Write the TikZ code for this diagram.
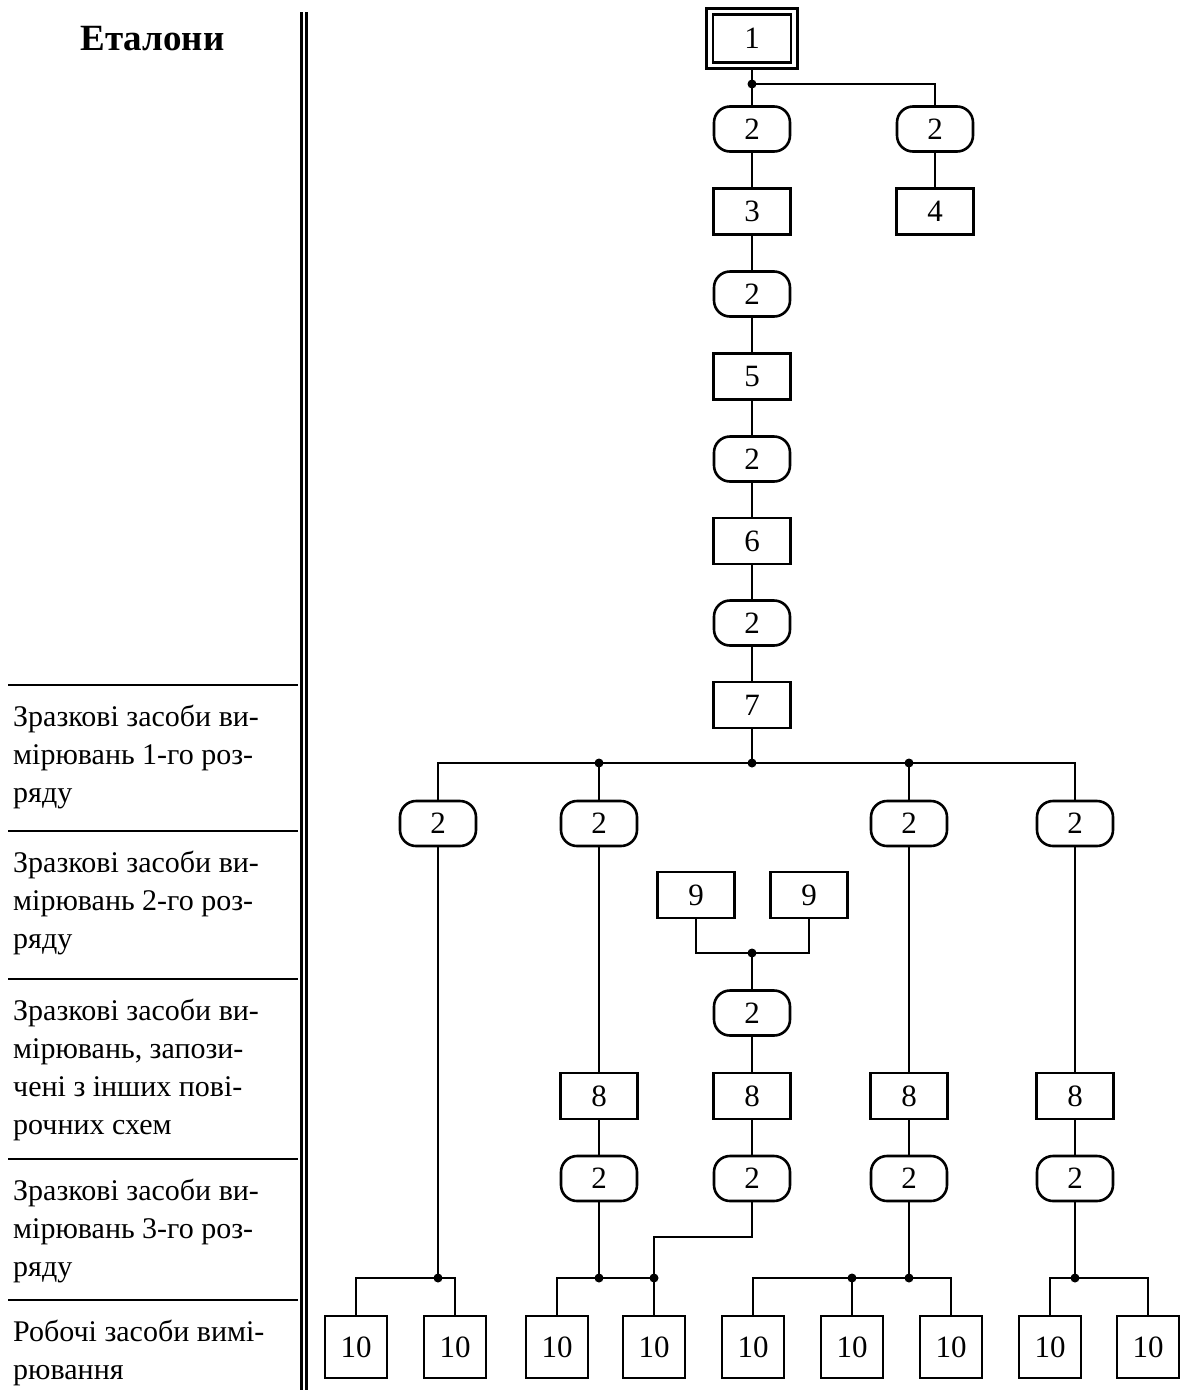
\documentclass[tikz,border=0pt]{standalone}
\usepackage{fontspec}
\setmainfont{Liberation Serif}
\newcommand{\digfont}{\fontsize{31}{37}\selectfont}
\newcommand{\labfont}{\fontsize{30}{38}\selectfont}
\newcommand{\ttlfont}{\fontsize{37}{44}\selectfont\bfseries}
\begin{document}
\begin{tikzpicture}[x=1pt,y=-1pt,
  every node/.style={inner sep=0pt},
  ln/.style={line width=2.6pt},
  box/.style={draw, line width=2.6pt, minimum width=77pt, minimum height=46pt, font=\digfont},
  rbox/.style={draw, line width=2.6pt, rounded corners=16pt, minimum width=76pt, minimum height=45pt, font=\digfont},
  tbox/.style={draw, line width=2.6pt, minimum width=62pt, minimum height=62pt, font=\digfont},
  dbox/.style={draw, line width=2.6pt, double, double distance=3.9pt, minimum width=84.5pt, minimum height=54pt, font=\digfont},
  lbl/.style={anchor=north west, align=left, font=\labfont},
  sepline/.style={line width=2.6pt}
]
\useasboundingbox (0,0) rectangle (1180,1390);
% left column
\node[font=\ttlfont, anchor=base] (ttl) at (152.5,50) {Еталони};
\draw[line width=2.6pt] (301.5,12) -- (301.5,1390);
\draw[line width=2.6pt] (306.5,12) -- (306.5,1390);
\foreach \yy in {685,831,979,1159,1300} \draw[sepline] (8,\yy) -- (298,\yy);
\node[lbl] (l1) at (13,705) {Зразкові засоби ви-\\мірювань 1-го роз-\\ряду};
\node[lbl] (l2) at (13,851) {Зразкові засоби ви-\\мірювань 2-го роз-\\ряду};
\node[lbl] (l3) at (13,999) {Зразкові засоби ви-\\мірювань, запози-\\чені з інших пові-\\рочних схем};
\node[lbl] (l4) at (13,1179) {Зразкові засоби ви-\\мірювань 3-го роз-\\ряду};
\node[lbl] (l5) at (13,1320) {Робочі засоби вимі-\\рювання};
% main column
\node[dbox] (n1) at (752,38.5) {1};
\coordinate (j1) at (752,84);
\node[rbox] (a2) at (752,129) {2};
\node[rbox] (b2) at (935,129) {2};
\node[box] (n3) at (752,211.5) {3};
\node[box] (n4) at (935,211.5) {4};
\node[rbox] (c2) at (752,294) {2};
\node[box] (n5) at (752,376.5) {5};
\node[rbox] (d2) at (752,459) {2};
\node[box] (n6) at (752,541) {6};
\node[rbox] (e2) at (752,623) {2};
\node[box] (n7) at (752,705) {7};
\coordinate (j2) at (752,763);
\coordinate (j3) at (599,763);
\coordinate (j4) at (909,763);
\node[rbox] (r1) at (438,823.5) {2};
\node[rbox] (r2) at (599,823.5) {2};
\node[rbox] (r3) at (909,823.5) {2};
\node[rbox] (r4) at (1075,823.5) {2};
\node[box] (n9a) at (696,895) {9};
\node[box] (n9b) at (809,895) {9};
\coordinate (j5) at (752,953);
\node[rbox] (m2) at (752,1013) {2};
\node[box] (e8a) at (599,1096) {8};
\node[box] (e8b) at (752,1096) {8};
\node[box] (e8c) at (909,1096) {8};
\node[box] (e8d) at (1075,1096) {8};
\node[rbox] (f2a) at (599,1178.5) {2};
\node[rbox] (f2b) at (752,1178.5) {2};
\node[rbox] (f2c) at (909,1178.5) {2};
\node[rbox] (f2d) at (1075,1178.5) {2};
\coordinate (el) at (654,1237);
\coordinate (g1) at (438,1278);
\coordinate (g2a) at (599,1278);
\coordinate (g2b) at (654,1278);
\coordinate (g3a) at (852,1278);
\coordinate (g3b) at (909,1278);
\coordinate (g4) at (1075,1278);
\node[tbox] (t1) at (356,1347) {10};
\node[tbox] (t2) at (455,1347) {10};
\node[tbox] (t3) at (557,1347) {10};
\node[tbox] (t4) at (654,1347) {10};
\node[tbox] (t5) at (753,1347) {10};
\node[tbox] (t6) at (852,1347) {10};
\node[tbox] (t7) at (951,1347) {10};
\node[tbox] (t8) at (1050,1347) {10};
\node[tbox] (t9) at (1148,1347) {10};
% connectors
\draw[ln] ([yshift=-3.3pt]n1.south) -- (j1) -- (a2);
\draw[ln] (j1) -| (b2);
\draw[ln] (a2) -- (n3) -- (c2) -- (n5) -- (d2) -- (n6) -- (e2) -- (n7) -- (j2);
\draw[ln] (b2) -- (n4);
\draw[ln] (r1) |- (j3) -- (j2) -- (j4) -| (r4);
\draw[ln] (j3) -- (r2);
\draw[ln] (j4) -- (r3);
\draw[ln] (n9a) |- (j5) -| (n9b);
\draw[ln] (j5) -- (m2) -- (e8b) -- (f2b);
\draw[ln] (r2) -- (e8a) -- (f2a);
\draw[ln] (r3) -- (e8c) -- (f2c);
\draw[ln] (r4) -- (e8d) -- (f2d);
\draw[ln] (r1) -- (g1);
\draw[ln] (t1) |- (g1) -| (t2);
\draw[ln] (t3) |- (g2a) -- (g2b) -- (t4);
\draw[ln] (f2a) -- (g2a);
\draw[ln] (f2b) |- (el) -- (g2b);
\draw[ln] (t5) |- (g3a) -- (g3b) -| (t7);
\draw[ln] (g3a) -- (t6);
\draw[ln] (f2c) -- (g3b);
\draw[ln] (t8) |- (g4) -| (t9);
\draw[ln] (f2d) -- (g4);
\foreach \c in {j1,j2,j3,j4,j5,g1,g2a,g2b,g3a,g3b,g4} \fill (\c) circle (4.5pt);
\end{tikzpicture}
\end{document}
